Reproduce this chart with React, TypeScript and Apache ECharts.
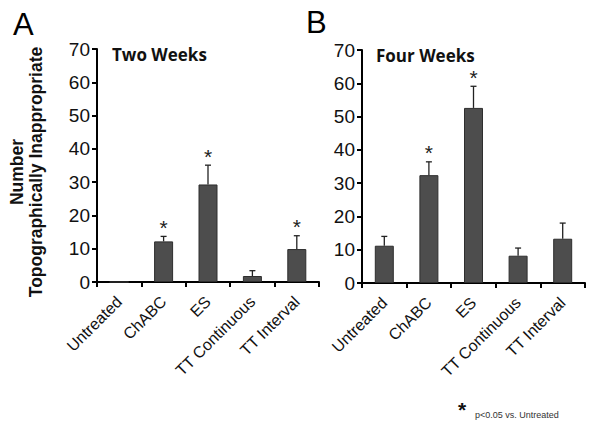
import React, { useEffect, useRef } from "react";
import * as echarts from "echarts";

const categories = ["Untreated", "ChABC", "ES", "TT Continuous", "TT Interval"];
const twoWeeksMean = [0, 12.2, 29.3, 1.8, 9.9];
const twoWeeksErr = [0, 1.5, 5.8, 1.6, 4.0];
const twoWeeksSig = [false, true, true, false, true];
const fourWeeksMean = [11.2, 32.4, 52.6, 8.2, 13.3];
const fourWeeksErr = [2.8, 4.0, 6.5, 2.3, 4.7];
const fourWeeksSig = [false, true, true, false, false];
const yTicks = [0, 10, 20, 30, 40, 50, 60, 70];

const FONT = "Liberation Sans, Arial, sans-serif";

function errSeries(gridIdx: number, mean: number[], err: number[], sig: boolean[]) {
  return {
    type: "custom",
    xAxisIndex: gridIdx,
    yAxisIndex: gridIdx,
    z: 5,
    data: mean.map((m, i) => [i, m, m + err[i], sig[i] ? 1 : 0]),
    renderItem: (params: any, api: any) => {
      const i = api.value(0);
      const lo = api.coord([i, api.value(1)]);
      const hi = api.coord([i, api.value(2)]);
      const children: any[] = [];
      if (api.value(2) > api.value(1)) {
        children.push({
          type: "line",
          shape: { x1: lo[0], y1: lo[1], x2: hi[0], y2: hi[1] },
          style: { stroke: "#222", lineWidth: 1.3 },
        });
        children.push({
          type: "line",
          shape: { x1: hi[0] - 3, y1: hi[1], x2: hi[0] + 3, y2: hi[1] },
          style: { stroke: "#222", lineWidth: 1.3 },
        });
      }
      if (api.value(3) === 1) {
        children.push({
          type: "text",
          x: hi[0],
          y: hi[1] - 9,
          style: {
            text: "*",
            fontSize: 21,
            fontFamily: FONT,
            fill: "#222",
            align: "center",
            verticalAlign: "middle",
          },
        });
      }
      return { type: "group", children };
    },
  };
}

export default function App() {
  const ref = useRef<HTMLDivElement>(null);
  useEffect(() => {
    const chart = echarts.init(ref.current!, null, { renderer: "svg" });
    const xAxisCommon = {
      type: "category",
      data: categories,
      axisLine: { lineStyle: { color: "#000", width: 2 } },
      axisTick: { show: true, length: 5, lineStyle: { color: "#000", width: 2 }, alignWithLabel: false },
      axisLabel: { rotate: 45, color: "#111", fontSize: 16, fontFamily: FONT, margin: 17, interval: 0 },
    };
    const yAxisCommon = {
      type: "value",
      min: 0,
      max: 70,
      interval: 10,
      axisLine: { show: true, lineStyle: { color: "#000", width: 2 } },
      axisTick: { show: true, length: 5, lineStyle: { color: "#000", width: 2 } },
      splitLine: { show: false },
      axisLabel: {
        color: "#111",
        fontSize: 19,
        fontFamily: FONT,
        margin: 7,
        formatter: (v: number) => (yTicks.includes(v) ? String(v) : ""),
      },
    };
    chart.setOption({
      animation: false,
      backgroundColor: "#fff",
      grid: [
        { left: 97, top: 49, width: 222, height: 233 },
        { left: 362, top: 50, width: 223, height: 233 },
      ],
      xAxis: [
        { ...xAxisCommon, gridIndex: 0 },
        { ...xAxisCommon, gridIndex: 1 },
      ],
      yAxis: [
        { ...yAxisCommon, gridIndex: 0 },
        { ...yAxisCommon, gridIndex: 1 },
      ],
      series: [
        {
          type: "bar",
          xAxisIndex: 0,
          yAxisIndex: 0,
          data: twoWeeksMean,
          barWidth: 19,
          itemStyle: { color: "#4d4d4d", borderColor: "#2e2e2e", borderWidth: 1 },
        },
        {
          type: "bar",
          xAxisIndex: 1,
          yAxisIndex: 1,
          data: fourWeeksMean,
          barWidth: 19,
          itemStyle: { color: "#4d4d4d", borderColor: "#2e2e2e", borderWidth: 1 },
        },
        errSeries(0, twoWeeksMean, twoWeeksErr, twoWeeksSig),
        errSeries(1, fourWeeksMean, fourWeeksErr, fourWeeksSig),
      ],
      graphic: [
        { type: "text", left: 13, top: 9, style: { text: "A", fontSize: 31, fontFamily: FONT, fill: "#000" } },
        { type: "text", left: 306, top: 7, style: { text: "B", fontSize: 31, fontFamily: FONT, fill: "#000" } },
        {
          type: "text",
          x: 112,
          y: 46,
          style: { text: "Two Weeks", fontSize: 17, fontWeight: "bold", fontFamily: "Open Sans, sans-serif", fill: "#111" },
        },
        {
          type: "text",
          x: 376,
          y: 47,
          style: { text: "Four Weeks", fontSize: 17, fontWeight: "bold", fontFamily: "Open Sans, sans-serif", fill: "#111" },
        },
        {
          type: "text",
          x: 26,
          y: 172,
          rotation: Math.PI / 2,
          style: {
            text: "Number\nTopographically Inappropriate",
            fontSize: 17.5,
            fontWeight: "bold",
            fontFamily: FONT,
            fill: "#111",
            align: "center",
            verticalAlign: "middle",
            lineHeight: 19,
          },
        },
        {
          type: "text",
          x: 458,
          y: 399,
          style: { text: "*", fontSize: 21, fontWeight: "bold", fontFamily: FONT, fill: "#111" },
        },
        {
          type: "text",
          x: 475,
          y: 410,
          style: { text: "p<0.05 vs. Untreated", fontSize: 9, fontFamily: FONT, fill: "#333" },
        },
      ],
    });
    return () => chart.dispose();
  }, []);
  return <div ref={ref} style={{ width: 601, height: 434, position: "absolute", left: 0, top: 0 }} />;
}
